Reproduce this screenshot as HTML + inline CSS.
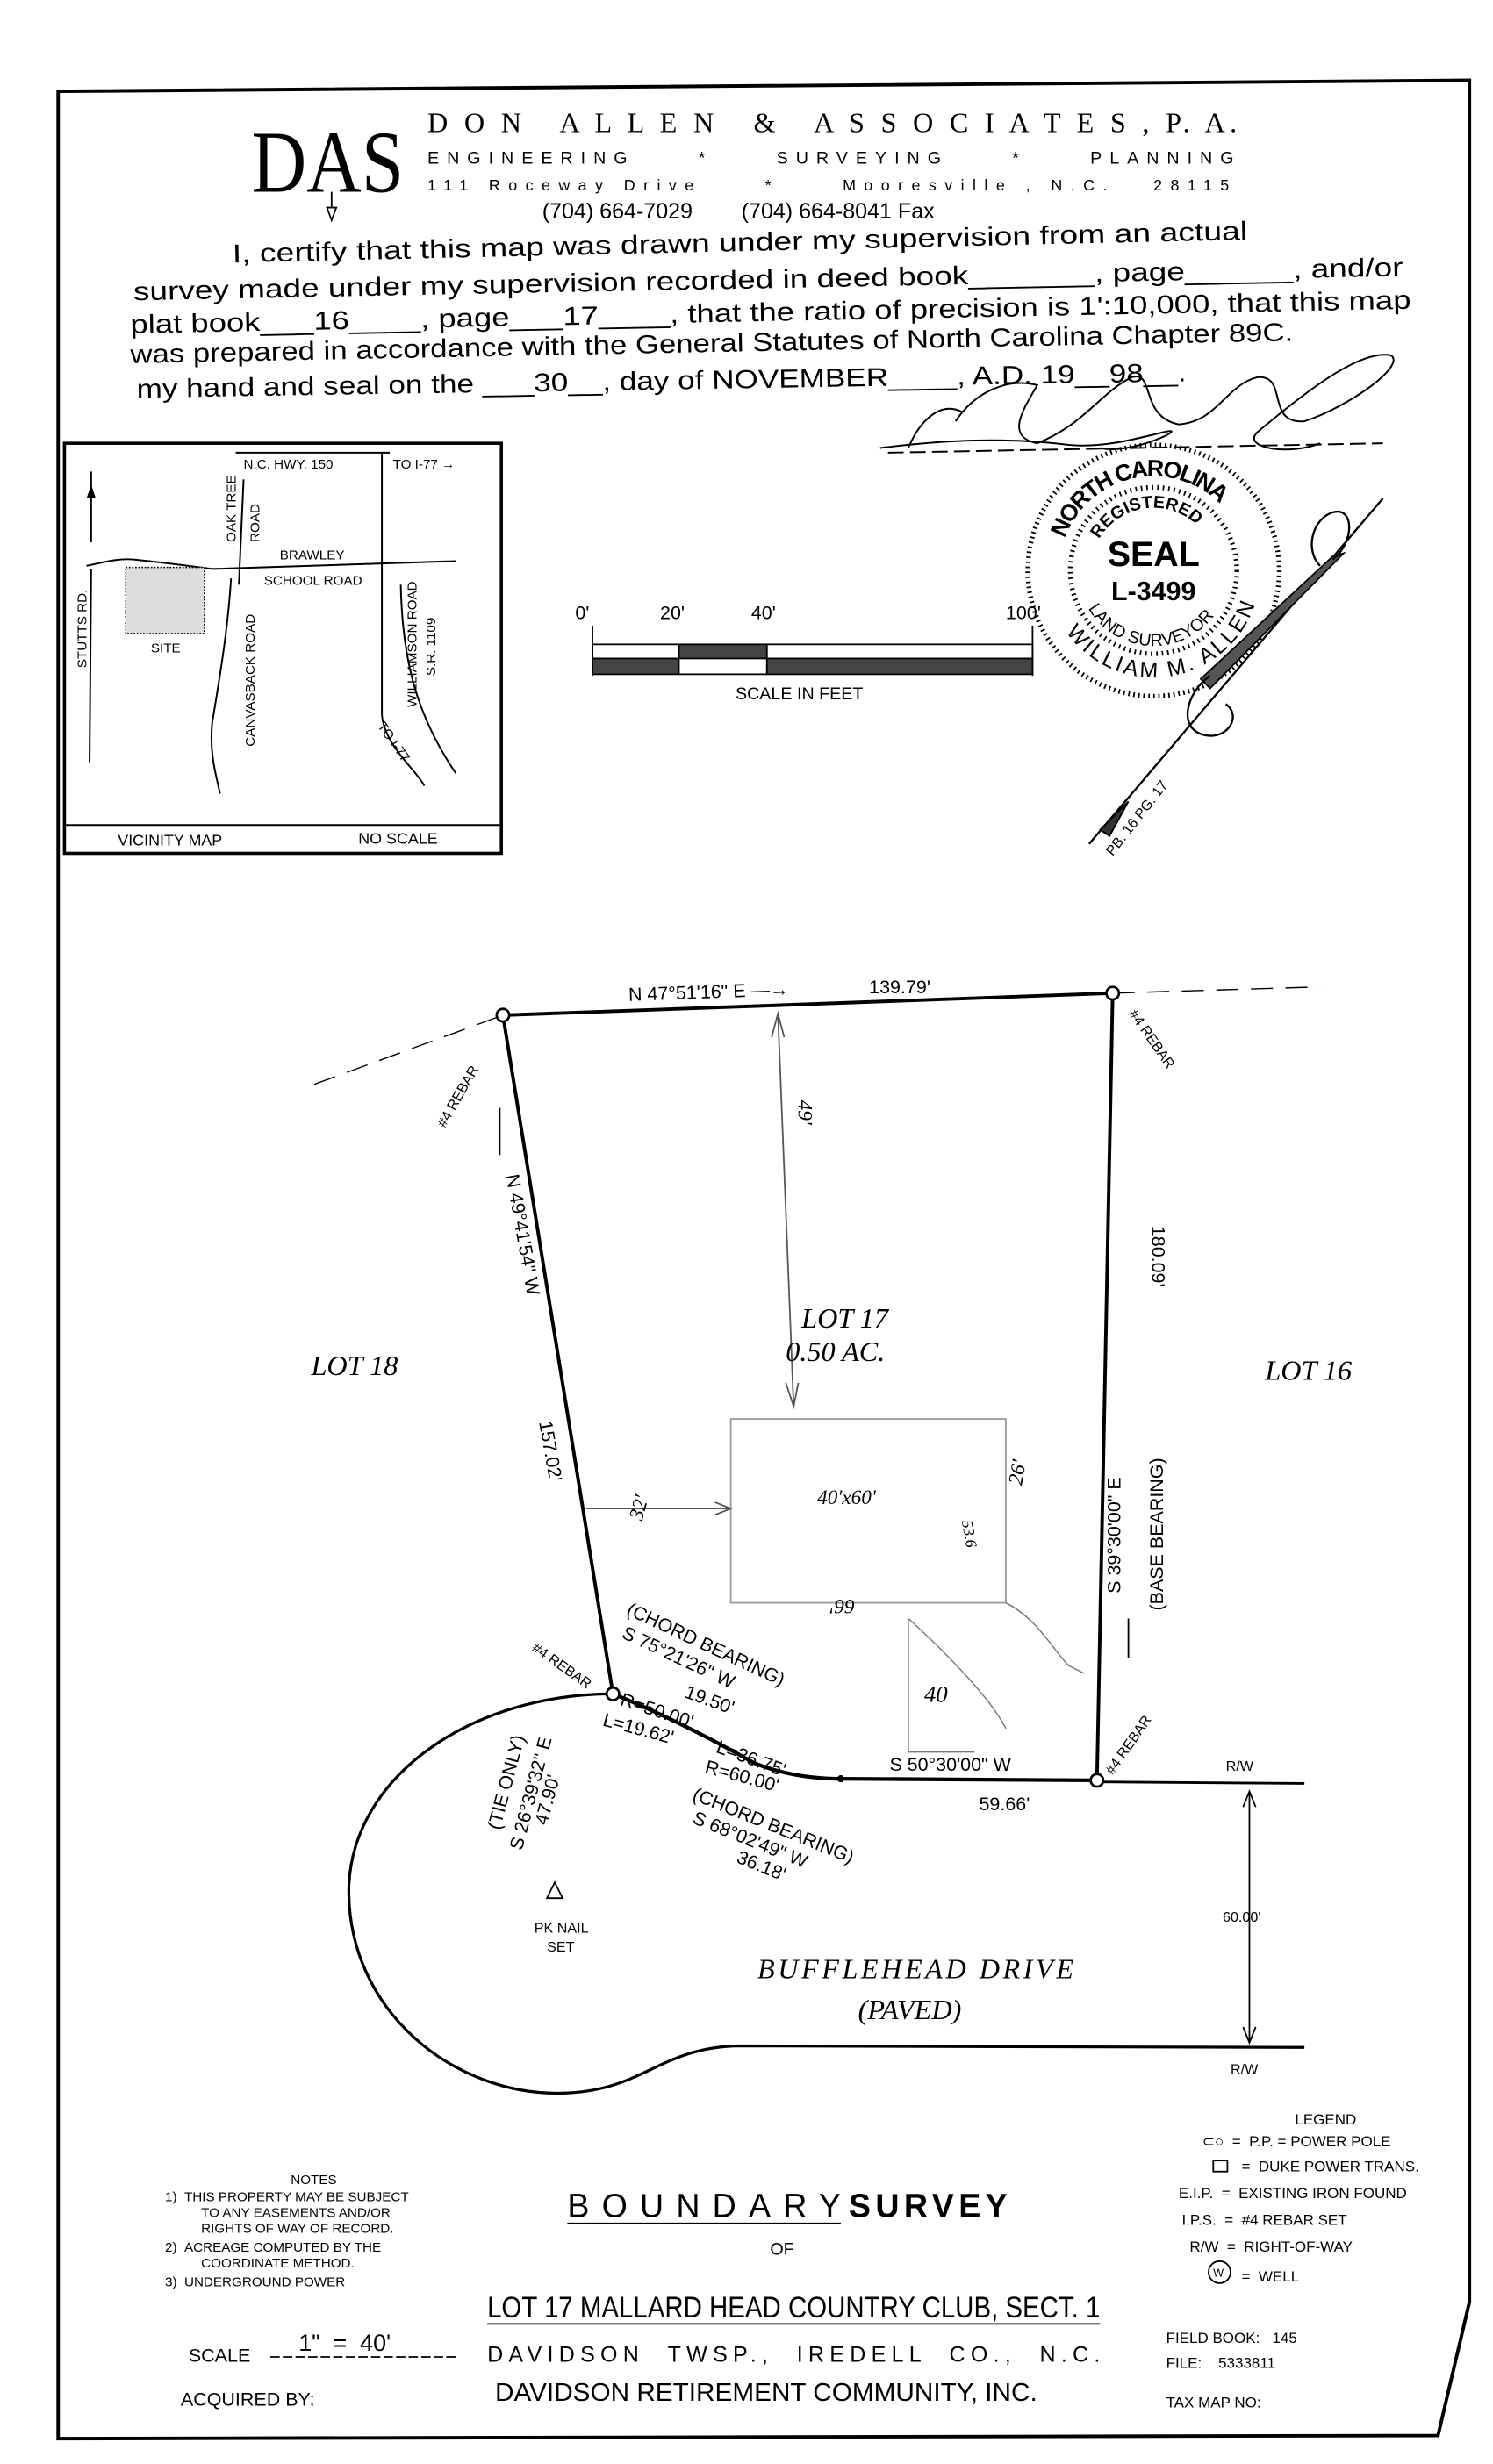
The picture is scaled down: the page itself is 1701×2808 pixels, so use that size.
<!DOCTYPE html>
<html><head><meta charset="utf-8"><style>
html,body{margin:0;padding:0;background:#fff;}
svg{display:block;}
text{font-family:"Liberation Sans",sans-serif;fill:#000;}
.s{font-family:"Liberation Serif",serif;}
.i{font-family:"Liberation Serif",serif;font-style:italic;}
</style></head><body>
<svg width="1701" height="2808" viewBox="0 0 950 1568" xmlns="http://www.w3.org/2000/svg">
<rect width="950" height="1568" fill="#fff"/>
<defs>
<path id="a1" d="M677.6,342.5 A60,60 0 0 1 776.4,320.6"/>
<path id="a2" d="M699.4,343 A40,40 0 0 1 759.7,332.4"/>
<path id="a3" d="M692.4,387 A48,48 0 0 0 781.8,367.2"/>
<path id="a4" d="M678.3,402 A68,68 0 0 0 801,374.8"/>
</defs>
<!-- border -->
<g stroke="#000" stroke-width="2.2" fill="none">
<path d="M37,58 L935,51 L935,1465 L915,1550 L37,1552 Z"/>
</g>
<!-- header -->
<text x="160" y="122" class="s" font-size="56" textLength="97" lengthAdjust="spacingAndGlyphs">DAS</text>
<path d="M211,122 L211,132 M208,132 L211,140 L214,132 Z" stroke="#000" stroke-width="1" fill="none"/>
<text x="272" y="84" class="s" font-size="18" textLength="515" lengthAdjust="spacing">D O N &#160; A L L E N &#160; &amp; &#160; A S S O C I A T E S , P. A.</text>
<text x="272" y="104" font-size="11" textLength="513" lengthAdjust="spacing">ENGINEERING &#160; &#160; * &#160; &#160; SURVEYING &#160; &#160; * &#160; &#160; PLANNING</text>
<text x="272" y="121" font-size="10" textLength="510" lengthAdjust="spacing">111 Roceway Drive &#160; &#160; * &#160; &#160; Mooresville , N.C. &#160; 28115</text>
<text x="345" y="139" font-size="14">(704) 664-7029 &#160; &#160; &#160; &#160;(704) 664-8041 Fax</text>
<g font-size="16.5">
<text x="148" y="167" transform="rotate(-1.3 148 167)" textLength="646" lengthAdjust="spacingAndGlyphs">I, certify that this map was drawn under my supervision from an actual</text>
<text x="85" y="191" transform="rotate(-1.1 85 191)" textLength="808" lengthAdjust="spacingAndGlyphs">survey made under my supervision recorded in deed book_______, page______, and/or</text>
<text x="83" y="212" transform="rotate(-1.1 83 212)" textLength="815" lengthAdjust="spacingAndGlyphs">plat book___16____, page___17____, that the ratio of precision is 1':10,000, that this map</text>
<text x="83" y="231" transform="rotate(-1.1 83 231)" textLength="740" lengthAdjust="spacingAndGlyphs">was prepared in accordance with the General Statutes of North Carolina Chapter 89C.</text>
<text x="87" y="253" transform="rotate(-0.9 87 253)" textLength="668" lengthAdjust="spacingAndGlyphs">my hand and seal on the ___30__, day of NOVEMBER____, A.D. 19__98__.</text>
</g>
<!-- signature -->
<g stroke="#000" stroke-width="1.1" fill="none">
<path d="M578,285 C585,268 598,255 612,262 M608,268 C620,250 640,240 660,245 C650,262 640,278 660,282 C690,270 700,250 720,240 C735,235 725,265 750,270 C775,268 780,245 800,240 C820,238 805,270 830,268 C860,258 895,232 885,226 C865,222 830,250 800,275 C790,285 820,290 840,282"/>
<path d="M560,285 C600,280 640,278 680,283 C700,285 720,280 740,275 C760,270 720,290 700,285" />
<path d="M565,288 L880,282" stroke-dasharray="10 4"/>
</g>
<!-- seal -->
<g fill="none" stroke="#000">
<circle cx="734" cy="363" r="80" stroke-width="3" stroke-dasharray="1 2.2"/>
<circle cx="734" cy="363" r="53" stroke-width="3" stroke-dasharray="1 2.5"/>
<path d="M880,317 L693,537" stroke-width="1.3"/>
<path d="M848,354 L855,352 L770,438 L764,432 Z" fill="#555" stroke-width="1"/>
<path d="M848,356 C862,345 862,322 848,326 C835,330 830,350 840,360" stroke-width="1.3"/>
<path d="M770,430 C755,440 748,465 768,468 C782,470 790,455 780,448" stroke-width="1.3"/>
<path d="M700,528 L718,510 L706,532 Z" fill="#333" stroke-width="1"/>
</g>
<g font-weight="bold">
<text x="734" y="360" text-anchor="middle" font-size="22">SEAL</text>
<text x="734" y="382" text-anchor="middle" font-size="17">L-3499</text>
<text font-size="15"><textPath href="#a1" textLength="120" lengthAdjust="spacing">NORTH CAROLINA</textPath></text>
<text font-size="11"><textPath href="#a2" textLength="72" lengthAdjust="spacing">REGISTERED</textPath></text>
<text font-size="11" font-weight="normal"><textPath href="#a3" textLength="95" lengthAdjust="spacing">LAND SURVEYOR</textPath></text>
<text font-size="14" font-weight="normal"><textPath href="#a4" textLength="150" lengthAdjust="spacing">WILLIAM M. ALLEN</textPath></text>
</g>
<text x="708" y="545" transform="rotate(-52 708 545)" font-size="9">PB. 16 PG. 17</text>
<!-- vicinity map -->
<rect x="41" y="282" width="278" height="261" fill="none" stroke="#000" stroke-width="2"/>
<g stroke="#000" stroke-width="1.1" fill="none">
<line x1="150" y1="288" x2="248" y2="288"/>
<line x1="243" y1="288" x2="243" y2="455"/>
<path d="M243,455 C245,475 265,490 270,500"/>
<path d="M255,372 C256,420 265,455 290,492"/>
<line x1="155" y1="305" x2="152" y2="372"/>
<path d="M55,360 C65,358 75,355 85,356 C105,358 120,360 135,362 L290,357"/>
<line x1="58" y1="362" x2="57" y2="485"/>
<path d="M147,368 C145,400 140,430 135,460 C133,480 138,495 140,505"/>
<path d="M58,300 L58,345"/>
<path d="M56,316 L58,310 L60,316 Z" fill="#000"/>
<line x1="42" y1="525" x2="318" y2="525"/>
</g>
<rect x="80" y="361" width="50" height="42" fill="#ddd" stroke="#000" stroke-width="0.8" stroke-dasharray="1 1"/>
<g font-size="8.5">
<text x="155" y="298">N.C. HWY. 150</text>
<text x="250" y="298">TO I-77 →</text>
<text x="178" y="356">BRAWLEY</text>
<text x="168" y="372">SCHOOL ROAD</text>
<text x="96" y="415">SITE</text>
<text x="150" y="345" transform="rotate(-90 150 345)">OAK TREE</text>
<text x="165" y="345" transform="rotate(-90 165 345)">ROAD</text>
<text x="55" y="425" transform="rotate(-90 55 425)">STUTTS RD.</text>
<text x="162" y="475" transform="rotate(-90 162 475)">CANVASBACK ROAD</text>
<text x="265" y="450" transform="rotate(-90 265 450)">WILLIAMSON ROAD</text>
<text x="277" y="430" transform="rotate(-90 277 430)">S.R. 1109</text>
<text x="240" y="462" transform="rotate(55 240 462)">TO I-77</text>
<text x="75" y="538" font-size="10">VICINITY MAP</text>
<text x="228" y="537" font-size="10">NO SCALE</text>
</g>
<!-- scale bar -->
<g font-size="12">
<text x="366" y="394">0'</text><text x="420" y="394">20'</text><text x="478" y="394">40'</text><text x="640" y="394">100'</text>
<text x="468" y="445" font-size="11">SCALE IN FEET</text>
</g>
<g stroke="#000" stroke-width="1">
<rect x="377" y="410" width="55" height="9" fill="#fff"/><rect x="432" y="410" width="56" height="9" fill="#444"/><rect x="488" y="410" width="169" height="9" fill="#fff"/>
<rect x="377" y="419" width="55" height="10" fill="#444"/><rect x="432" y="419" width="56" height="10" fill="#fff"/><rect x="488" y="419" width="169" height="10" fill="#444"/>
<line x1="377" y1="398" x2="377" y2="430"/><line x1="657" y1="398" x2="657" y2="430"/>
</g>
<!-- plat -->
<g stroke="#000" fill="none">
<path d="M200,690 L320,646" stroke-width="0.8" stroke-dasharray="14 8"/>
<path d="M708,632 L840,628" stroke-width="0.8" stroke-dasharray="14 8"/>
<path d="M320,646 L708,632 L698,1133 M320,646 L390,1078" stroke-width="2.2"/>
<path d="M390,1078 C420,1090 450,1105 480,1122 C500,1130 520,1132 535,1132 L698,1133" stroke-width="2.4"/>
<path d="M698,1134 L830,1135" stroke-width="1.6"/>
<path d="M390,1078 C300,1078 225,1130 222,1200 C220,1280 290,1335 360,1332 C410,1330 420,1303 470,1302 L830,1303" stroke-width="1.8"/>
<circle cx="320" cy="646" r="4" fill="#fff" stroke-width="1.5"/>
<circle cx="708" cy="632" r="4" fill="#fff" stroke-width="1.5"/>
<circle cx="390" cy="1078" r="4" fill="#fff" stroke-width="1.5"/>
<circle cx="698" cy="1133" r="4" fill="#fff" stroke-width="1.5"/>
<circle cx="535" cy="1132" r="1.8" fill="#000"/>
<path d="M795,1140 L795,1300 M791,1150 L795,1140 L799,1150 M791,1290 L795,1300 L799,1290" stroke-width="1"/>
<rect x="465" y="903" width="175" height="117" stroke="#999" stroke-width="1"/>
<path d="M495,645 L505,895 M491,660 L495,645 L499,660 M500,880 L505,895 L508,880" stroke="#555" stroke-width="1"/>
<path d="M373,960 L465,960 M455,956 L465,960 L455,964" stroke="#555" stroke-width="1"/>
<path d="M578,1030 L578,1115 L620,1115 M578,1030 C600,1050 630,1080 640,1100" stroke="#777" stroke-width="0.8"/>
<path d="M640,1020 C660,1030 670,1050 680,1060 L690,1065" stroke="#777" stroke-width="0.8"/>
<path d="M353,1198 L358,1208 L348,1208 Z" stroke-width="1"/>
<path d="M318,705 L318,735" stroke-width="1"/>
<path d="M718,1030 L718,1055" stroke-width="1"/>
</g>
<g font-size="12">
<text x="400" y="637" transform="rotate(-2 400 637)">N 47°51'16" E —→</text>
<text x="553" y="632">139.79'</text>
<text x="322" y="748" transform="rotate(80 322 748)">N 49°41'54" W</text>
<text x="343" y="905" transform="rotate(80 343 905)">157.02'</text>
<text x="733" y="780" transform="rotate(90 733 780)">180.09'</text>
<text x="713" y="940" transform="rotate(-90 713 940)" text-anchor="end">S 39°30'00" E</text>
<text x="740" y="1025" transform="rotate(-90 740 1025)">(BASE BEARING)</text>
<text x="566" y="1127">S 50°30'00" W</text>
<text x="623" y="1152">59.66'</text>
<text x="394" y="1085" transform="rotate(18 394 1085)">R=50.00'</text>
<text x="383" y="1098" transform="rotate(15 383 1098)">L=19.62'</text>
<text x="455" y="1115" transform="rotate(20 455 1115)">L=36.75'</text>
<text x="448" y="1128" transform="rotate(15 448 1128)">R=60.00'</text>
<text x="398" y="1027" transform="rotate(25 398 1027)">(CHORD BEARING)</text>
<text x="395" y="1042" transform="rotate(25 395 1042)">S 75°21'26" W</text>
<text x="435" y="1080" transform="rotate(20 435 1080)">19.50'</text>
<text x="440" y="1145" transform="rotate(22 440 1145)">(CHORD BEARING)</text>
<text x="440" y="1160" transform="rotate(22 440 1160)">S 68°02'49" W</text>
<text x="468" y="1185" transform="rotate(22 468 1185)">36.18'</text>
<text x="318" y="1165" transform="rotate(-75 318 1165)">(TIE ONLY)</text>
<text x="332" y="1178" transform="rotate(-75 332 1178)">S 26°39'32" E</text>
<text x="348" y="1162" transform="rotate(-75 348 1162)">47.90'</text>
</g>
<g font-size="9">
<text x="283" y="718" transform="rotate(-60 283 718)">#4 REBAR</text>
<text x="718" y="645" transform="rotate(55 718 645)">#4 REBAR</text>
<text x="338" y="1050" transform="rotate(35 338 1050)">#4 REBAR</text>
<text x="708" y="1130" transform="rotate(-55 708 1130)">#4 REBAR</text>
<text x="780" y="1127">R/W</text><text x="783" y="1320">R/W</text>
<text x="778" y="1223">60.00'</text>
<text x="340" y="1230">PK NAIL</text><text x="348" y="1242">SET</text>
</g>
<g font-size="18">
<text x="198" y="875" class="i">LOT 18</text>
<text x="510" y="845" class="i">LOT 17</text>
<text x="500" y="866" class="i">0.50 AC.</text>
<text x="805" y="878" class="i">LOT 16</text>
<text x="482" y="1259" class="i" textLength="201" lengthAdjust="spacing">BUFFLEHEAD DRIVE</text>
<text x="546" y="1285" class="i">(PAVED)</text>
</g>
<g font-size="13">
<text x="520" y="957" class="i" fill="#333">40'x60'</text>
<text x="400" y="967" class="i" transform="rotate(-75 405 962)">32'</text>
<text x="643" y="943" class="i" transform="rotate(-80 648 940)">26'</text>
<text x="612" y="968" class="i" transform="rotate(80 612 968)" font-size="10">53.6</text>
<text x="560" y="1012" class="i" transform="rotate(180 552 1015)">66'</text>
<text x="588" y="1083" class="i" font-size="15">40</text>
<text x="508" y="700" class="i" transform="rotate(90 508 700)">49'</text>
</g>
<!-- legend -->
<g font-size="9.5">
<text x="824" y="1352">LEGEND</text>
<text x="765" y="1366">⊂○ &#160;= &#160;P.P. = POWER POLE</text>
<rect x="772" y="1375" width="9" height="7" fill="none" stroke="#000"/><text x="790" y="1382">= &#160;DUKE POWER TRANS.</text>
<text x="750" y="1399">E.I.P. &#160;= &#160;EXISTING IRON FOUND</text>
<text x="752" y="1416">I.P.S. &#160;= &#160;#4 REBAR SET</text>
<text x="757" y="1433">R/W &#160;= &#160;RIGHT-OF-WAY</text>
<circle cx="776" cy="1446" r="7" fill="none" stroke="#000"/><text x="772" y="1449" font-size="7">W</text>
<text x="790" y="1452">= &#160;WELL</text>
</g>
<g font-size="8.5">
<text x="185" y="1390">NOTES</text>
<text x="105" y="1401">1) &#160;THIS PROPERTY MAY BE SUBJECT</text>
<text x="128" y="1411">TO ANY EASEMENTS AND/OR</text>
<text x="128" y="1421">RIGHTS OF WAY OF RECORD.</text>
<text x="105" y="1433">2) &#160;ACREAGE COMPUTED BY THE</text>
<text x="128" y="1443">COORDINATE METHOD.</text>
<text x="105" y="1455">3) &#160;UNDERGROUND POWER</text>
</g>
<text x="361" y="1411" font-size="21" textLength="174" lengthAdjust="spacing">BOUNDARY</text>
<line x1="361" y1="1415" x2="535" y2="1415" stroke="#000" stroke-width="1"/>
<text x="540" y="1411" font-size="21" font-weight="bold" textLength="101">SURVEY</text>
<text x="490" y="1435" font-size="11">OF</text>
<text x="310" y="1475" font-size="19" textLength="390" lengthAdjust="spacingAndGlyphs">LOT 17 MALLARD HEAD COUNTRY CLUB, SECT. 1</text>
<line x1="310" y1="1479" x2="700" y2="1479" stroke="#000" stroke-width="1"/>
<text x="310" y="1503" font-size="14" textLength="390" lengthAdjust="spacing">DAVIDSON &#160;TWSP., &#160;IREDELL &#160;CO., &#160;N.C.</text>
<text x="315" y="1528" font-size="16" textLength="345" lengthAdjust="spacingAndGlyphs">DAVIDSON RETIREMENT COMMUNITY, INC.</text>
<text x="120" y="1503" font-size="12">SCALE</text>
<text x="190" y="1496" font-size="15">1" &#160;= &#160;40'</text>
<line x1="172" y1="1500" x2="292" y2="1500" stroke="#000" stroke-width="1" stroke-dasharray="6 2"/>
<text x="115" y="1531" font-size="12">ACQUIRED BY:</text>
<g font-size="9.5">
<text x="742" y="1491">FIELD BOOK: &#160; 145</text>
<text x="742" y="1507">FILE: &#160; &#160;5333811</text>
<text x="742" y="1532">TAX MAP NO:</text>
</g>
</svg>
</body></html>
